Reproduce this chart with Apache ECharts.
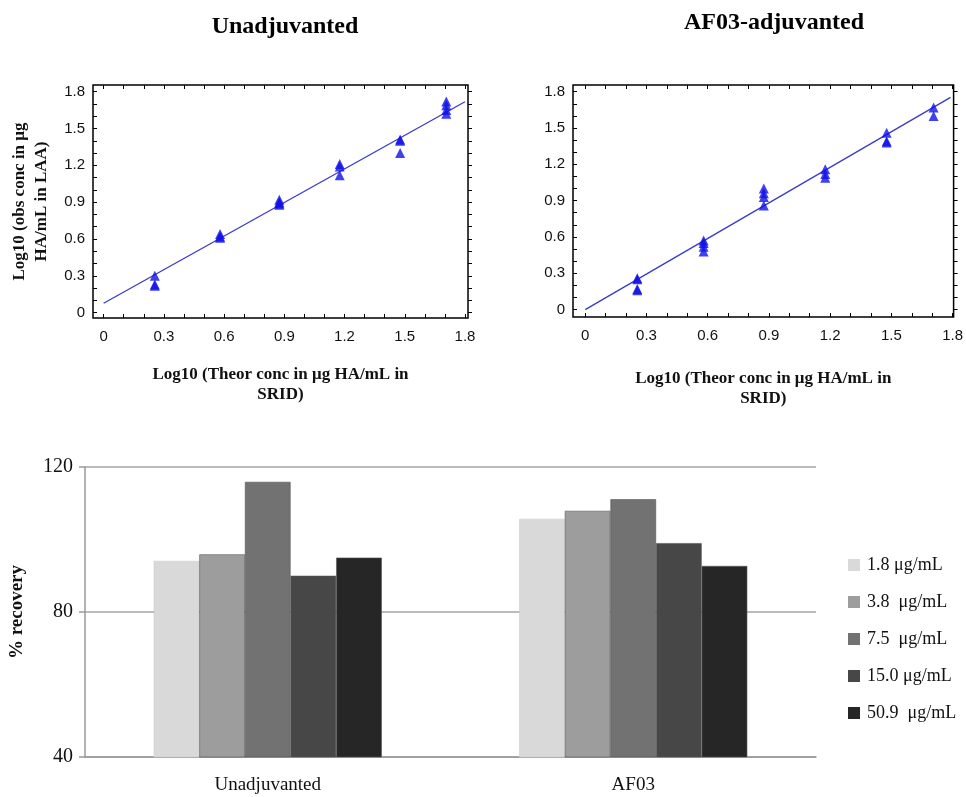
<!DOCTYPE html>
<html>
<head>
<meta charset="utf-8">
<script src="https://cdn.jsdelivr.net/npm/echarts@6/dist/echarts.min.js"></script>
<style>
html,body{margin:0;padding:0;background:#fff;}
#main{width:966px;height:797px;}
</style>
</head>
<body>
<div id="main"></div>
<script>
// ---- data ----
var logTheor = [0.255, 0.58, 0.875, 1.176, 1.477, 1.707];
var unadjObs = [
  [0.30, 0.23, 0.22],
  [0.62, 0.61, 0.64],
  [0.90, 0.92, 0.89, 0.88],
  [1.21, 1.19, 1.12],
  [1.41, 1.40, 1.30],
  [1.72, 1.69, 1.65, 1.62]
];
var af03Obs = [
  [0.26, 0.25, 0.17, 0.16],
  [0.57, 0.55, 0.52, 0.48],
  [1.00, 0.96, 0.93, 0.86],
  [1.16, 1.12, 1.09],
  [1.46, 1.39, 1.38],
  [1.67, 1.60]
];
var unadjFitX = [0.0, 1.8];
var unadjFitY = [0.077, 1.718];
var af03FitX = [0.0, 1.79];
var af03FitY = [0.0, 1.753];
var logTicks = [0, 0.3, 0.6, 0.9, 1.2, 1.5, 1.8];
var minorTicks = [0,0.1,0.2,0.3,0.4,0.5,0.6,0.7,0.8,0.9,1.0,1.1,1.2,1.3,1.4,1.5,1.6,1.7,1.8];

var barCategories = ['Unadjuvanted', 'AF03'];
var concLabels = ['1.8 \u03bcg/mL', '3.8  \u03bcg/mL', '7.5  \u03bcg/mL', '15.0 \u03bcg/mL', '50.9  \u03bcg/mL'];
var recovery = [
  [94.1, 105.7],
  [95.9, 107.9],
  [115.9, 111.1],
  [90.0, 99.0],
  [95.0, 92.7]
];
var barColors = ['#d9d9d9', '#9d9d9d', '#727272', '#474747', '#262626'];

function pairs(xs, ys) {
  var out = [];
  for (var i = 0; i < xs.length; i++) {
    for (var j = 0; j < ys[i].length; j++) out.push([xs[i], ys[i][j]]);
  }
  return out;
}
function zip(a, b) { return a.map(function (v, i) { return [v, b[i]]; }); }

var serif = 'Liberation Serif, Times New Roman, serif';
var sans = 'Liberation Sans, Arial, sans-serif';
function fmt(v) { return String(+(+v).toFixed(1)); }

function sciX(gi, min, max, name, nameGap) {
  return {
    type: 'value', gridIndex: gi, min: min, max: max, position: 'bottom',
    axisLine: { show: false, onZero: false },
    splitLine: { show: false },
    axisTick: { show: true, inside: true, length: 4, customValues: minorTicks, lineStyle: { color: '#000' } },
    axisLabel: { customValues: logTicks, margin: 11, fontFamily: sans, fontSize: 15, color: '#111', formatter: fmt },
    name: name, nameLocation: 'middle', nameGap: nameGap,
    nameTextStyle: { fontFamily: serif, fontWeight: 'bold', fontSize: 17, color: '#111', lineHeight: 20 }
  };
}
function sciXTop(gi, min, max) {
  return {
    type: 'value', gridIndex: gi, min: min, max: max, position: 'top',
    axisLine: { show: false, onZero: false },
    splitLine: { show: false },
    axisTick: { show: true, inside: true, length: 4, customValues: minorTicks, lineStyle: { color: '#000' } },
    axisLabel: { show: false }
  };
}
function sciY(gi, min, max, name) {
  return {
    type: 'value', gridIndex: gi, min: min, max: max, position: 'left',
    axisLine: { show: false, onZero: false },
    splitLine: { show: false },
    axisTick: { show: true, inside: true, length: 4, customValues: minorTicks, lineStyle: { color: '#000' } },
    axisLabel: { customValues: logTicks, margin: 8, fontFamily: sans, fontSize: 15, color: '#111', formatter: fmt },
    name: name, nameLocation: 'middle', nameGap: 40, nameRotate: 90,
    nameTextStyle: { fontFamily: serif, fontWeight: 'bold', fontSize: 17, color: '#111', lineHeight: 22, align: 'center' }
  };
}
function sciYRight(gi, min, max) {
  return {
    type: 'value', gridIndex: gi, min: min, max: max, position: 'right',
    axisLine: { show: false, onZero: false },
    splitLine: { show: false },
    axisTick: { show: true, inside: false, length: 4, customValues: minorTicks, lineStyle: { color: '#000' } },
    axisLabel: { show: false }
  };
}

var chart = echarts.init(document.getElementById('main'), null, { renderer: 'canvas' });
chart.setOption({
  backgroundColor: '#fff',
  animation: false,
  title: [
    { text: 'Unadjuvanted', left: 280, top: 10, textAlign: 'center',
      textStyle: { fontFamily: serif, fontWeight: 'bold', fontSize: 24, color: '#000' } },
    { text: 'AF03-adjuvanted', left: 769, top: 6, textAlign: 'center',
      textStyle: { fontFamily: serif, fontWeight: 'bold', fontSize: 24, color: '#000' } }
  ],
  grid: [
    { left: 93, top: 85, width: 375, height: 233, show: true, borderColor: '#000', borderWidth: 1.5, backgroundColor: 'transparent' },
    { left: 573, top: 85, width: 385, height: 232, show: true, borderColor: '#000', borderWidth: 1.5, backgroundColor: 'transparent' },
    { left: 84, top: 467, width: 732, height: 290 }
  ],
  legend: {
    orient: 'vertical', left: 843, top: 551, itemWidth: 12, itemHeight: 12, itemGap: 19,
    icon: 'rect',
    itemStyle: { borderWidth: 0 },
    textStyle: { fontFamily: serif, fontSize: 18, color: '#111', padding: [0, 0, 0, 2] },
    data: concLabels
  },
  xAxis: [
    sciX(0, -0.053, 1.815, 'Log10 (Theor conc in \u03bcg HA/mL in\nSRID)', 47),
    sciX(1, -0.06, 1.805, 'Log10 (Theor conc in \u03bcg HA/mL in\nSRID)', 52),
    {
      type: 'category', gridIndex: 2, data: barCategories,
      axisLine: { show: true, lineStyle: { color: '#999', width: 1.5 } },
      axisTick: { show: false },
      axisLabel: { fontFamily: serif, fontSize: 19, color: '#111', margin: 19 }
    },
    sciXTop(0, -0.053, 1.815),
    sciXTop(1, -0.06, 1.805)
  ],
  yAxis: [
    sciY(0, -0.043, 1.854, 'Log10 (obs conc in \u03bcg\nHA/mL in LAA)'),
    sciY(1, -0.061, 1.855, ''),
    {
      type: 'value', gridIndex: 2, min: 40, max: 120, interval: 40,
      axisLine: { show: true, lineStyle: { color: '#999', width: 1.5 } },
      axisTick: { show: true, length: 6, lineStyle: { color: '#999', width: 1.5 } },
      splitLine: { show: true, lineStyle: { color: '#a5a5a5', width: 1.5 } },
      axisLabel: { fontFamily: serif, fontSize: 20, color: '#111', margin: 12 },
      name: '% recovery', nameLocation: 'middle', nameGap: 58, nameRotate: 90,
      nameTextStyle: { fontFamily: serif, fontWeight: 'bold', fontSize: 19, color: '#111' }
    },
    sciYRight(0, -0.043, 1.854),
    sciYRight(1, -0.061, 1.855)
  ],
  series: [
    { type: 'line', xAxisIndex: 0, yAxisIndex: 0, data: zip(unadjFitX, unadjFitY),
      showSymbol: false, lineStyle: { color: '#3a3acc', width: 1.3 }, z: 2 },
    { type: 'scatter', xAxisIndex: 0, yAxisIndex: 0, data: pairs(logTheor, unadjObs),
      symbol: 'triangle', symbolSize: 10, itemStyle: { color: '#1010e8' }, z: 3 },
    { type: 'line', xAxisIndex: 1, yAxisIndex: 1, data: zip(af03FitX, af03FitY),
      showSymbol: false, lineStyle: { color: '#3a3acc', width: 1.3 }, z: 2 },
    { type: 'scatter', xAxisIndex: 1, yAxisIndex: 1, data: pairs(logTheor, af03Obs),
      symbol: 'triangle', symbolSize: 10, itemStyle: { color: '#1010e8' }, z: 3 }
  ].concat(concLabels.map(function (name, i) {
    return {
      type: 'bar', name: name, xAxisIndex: 2, yAxisIndex: 2, data: recovery[i],
      barGap: '0%', barCategoryGap: '37.6%',
      itemStyle: { color: barColors[i], borderColor: i === 0 ? '#cfcfcf' : '#555', borderWidth: 0.6 }
    };
  }))
});
</script>
</body>
</html>
